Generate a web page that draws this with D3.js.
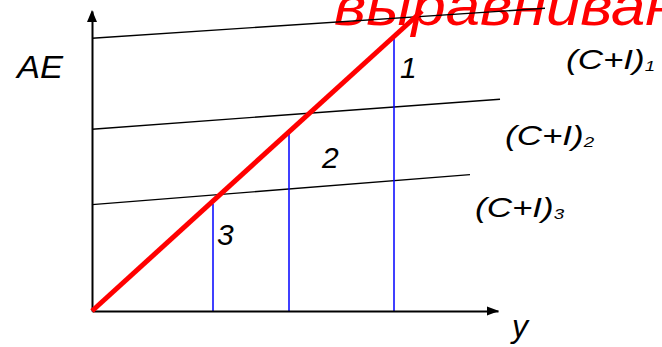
<!DOCTYPE html>
<html>
<head>
<meta charset="utf-8">
<script src="https://cdn.jsdelivr.net/npm/d3@7"></script>
<style>
  html, body { margin: 0; padding: 0; background: #fff; overflow: hidden; }
  svg { display: block; }
  text { font-family: "Liberation Sans", Arial, sans-serif; font-style: italic; }
</style>
</head>
<body>
<svg id="chart" width="662" height="347"></svg>
<script>
// ---- data (in chart units) ----
const titleText = "выравнивание";
const axisLabels = ["AE", "y"];
const curveNames = ["(C+I)", "(C+I)", "(C+I)"];
const curveSubs = ["1", "2", "3"];
// planned expenditure lines
const curveStartX = [0, 0, 0];
const curveStartY = [300, 200, 117];
const curveEndX = [453, 408, 378];
const curveEndY = [333, 233, 150];
// 45-degree line
const diagX = [0, 330];
const diagY = [0, 330];
// equilibrium verticals
const eqX = [302, 197, 121];
const eqTop = [300, 200, 118];
const eqLabels = ["1", "2", "3"];
const xDomain = [0, 406];
const yDomain = [0, 330];

const svg = d3.select("#chart");
const x = d3.scaleLinear().domain(xDomain).range([92, 498]);
const y = d3.scaleLinear().domain(yDomain).range([311, 11]);

// title (clipped at top/right as in the original slide)
svg.append("text")
  .attr("transform", "translate(334,25) scale(1.1,1)")
  .attr("font-size", 56)
  .attr("fill", "#ff0000")
  .text(titleText);

// expenditure lines
curveStartX.forEach((_, i) => {
  svg.append("line")
    .attr("x1", x(curveStartX[i])).attr("y1", y(curveStartY[i]))
    .attr("x2", x(curveEndX[i])).attr("y2", y(curveEndY[i]))
    .attr("stroke", "#000").attr("stroke-width", 1.4);
});

// blue verticals
eqX.forEach((v, i) => {
  svg.append("line")
    .attr("x1", x(v)).attr("y1", y(0))
    .attr("x2", x(v)).attr("y2", y(eqTop[i]))
    .attr("stroke", "#0000ff").attr("stroke-width", 1.5);
});

// axes
const xAxis = d3.axisBottom(x).tickValues([]).tickSizeOuter(0);
const yAxis = d3.axisLeft(y).tickValues([]).tickSizeOuter(0);
const gx = svg.append("g").attr("transform", `translate(0,${y(0)})`).call(xAxis);
const gy = svg.append("g").attr("transform", `translate(${x(0)},0)`).call(yAxis);
[gx, gy].forEach(g => g.select(".domain").attr("stroke", "#000").attr("stroke-width", 2));

// arrowheads
const xt = x(xDomain[1]), yt = y(0);
svg.append("path")
  .attr("d", `M${xt + 1},${yt} L${xt - 11},${yt - 4.5} L${xt - 11},${yt + 4.5} Z`)
  .attr("fill", "#000");
const ax = x(0), ay = y(yDomain[1]);
svg.append("path")
  .attr("d", `M${ax},${ay - 1} L${ax - 5},${ay + 11} L${ax + 5},${ay + 11} Z`)
  .attr("fill", "#000");

// 45-degree line
svg.append("line")
  .attr("x1", x(diagX[0])).attr("y1", y(diagY[0]))
  .attr("x2", x(diagX[1])).attr("y2", y(diagY[1]))
  .attr("stroke", "#ff0000").attr("stroke-width", 5);

// axis labels
svg.append("text").attr("transform", "translate(17,78) scale(1.08,1)")
  .attr("font-size", 32).text(axisLabels[0]);
svg.append("text").attr("x", 512).attr("y", 337).attr("font-size", 32).text(axisLabels[1]);

// curve labels
const curvePos = [[566, 69], [505, 145], [475, 217]];
curveNames.forEach((n, i) => {
  const t = svg.append("text")
    .attr("transform", `translate(${curvePos[i][0]},${curvePos[i][1]}) scale(1.25,1)`)
    .attr("font-size", 28);
  t.append("tspan").text(n);
  t.append("tspan").attr("font-size", 15).attr("dy", 2).text(curveSubs[i]);
});

// region labels
const eqPos = [[400, 78], [322, 168], [217, 245]];
eqLabels.forEach((l, i) => {
  svg.append("text")
    .attr("x", eqPos[i][0]).attr("y", eqPos[i][1])
    .attr("font-size", 30).text(l);
});
</script>
</body>
</html>
